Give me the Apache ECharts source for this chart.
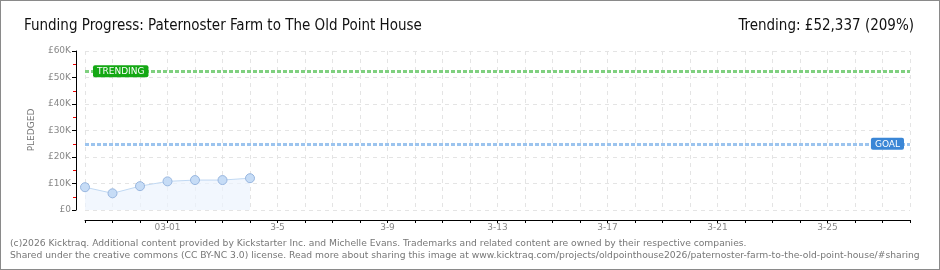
<!DOCTYPE html>
<html><head><meta charset="utf-8">
<script src="https://cdn.jsdelivr.net/npm/echarts@6/dist/echarts.min.js"></script>
<style>
html,body{margin:0;padding:0;background:#fff;}
#wrap{position:relative;width:938px;height:268px;border:1px solid #8a8a8a;}
#c{position:absolute;left:-1px;top:-1px;width:940px;height:270px;}
</style></head>
<body><div id="wrap"><div id="c"></div></div>
<script>
const categories = ['2-26','2-27','2-28','3-1','3-2','3-3','3-4','3-5','3-6','3-7','3-8','3-9','3-10','3-11','3-12','3-13','3-14','3-15','3-16','3-17','3-18','3-19','3-20','3-21','3-22','3-23','3-24','3-25','3-26','3-27','3-28'];
const xTickLabels = {'3-1':'03-01','3-5':'3-5','3-9':'3-9','3-13':'3-13','3-17':'3-17','3-21':'3-21','3-25':'3-25'};
const pledged = [8600, 6300, 9000, 10800, 11300, 11300, 12000];
const yTickLabels = ['£0','£10K','£20K','£30K','£40K','£50K','£60K'];
const goal = 25000;
const trending = 52337;

const chart = echarts.init(document.getElementById('c'));
const font = 'DejaVu Sans';
const titleFont = 'Liberation Sans Narrow, DejaVu Sans Condensed';
chart.setOption({
  animation:false,
  backgroundColor:'transparent',
  grid:{left:85,right:30,top:51,bottom:60},
  title:[
    {text:'Funding Progress: Paternoster Farm to The Old Point House',left:19,top:14,
     textStyle:{fontFamily:titleFont,fontWeight:'normal',fontSize:15,color:'#111'}},
    {text:'Trending: £52,337 (209%)',right:21,top:14,
     textStyle:{fontFamily:titleFont,fontWeight:'normal',fontSize:15,color:'#111'}}
  ],
  graphic:[
    {type:'text',left:10,top:239,style:{text:'(c)2026 Kicktraq. Additional content provided by Kickstarter Inc. and Michelle Evans. Trademarks and related content are owned by their respective companies.',font:'9.2px '+font,fill:'#777'}},
    {type:'text',left:10,top:251,style:{text:'Shared under the creative commons (CC BY-NC 3.0) license. Read more about sharing this image at www.kicktraq.com/projects/oldpointhouse2026/paternoster-farm-to-the-old-point-house/#sharing',font:'9.2px '+font,fill:'#777'}},
    {type:'text',x:32,y:130,rotation:Math.PI/2,style:{text:'PLEDGED',font:'9px '+font,fill:'#777',align:'center',verticalAlign:'middle'}}
  ],
  xAxis:{type:'category',data:categories,boundaryGap:false,offset:10,
    axisLine:{onZero:false,lineStyle:{color:'#000',width:1}},
    axisTick:{show:true,length:3,interval:0,lineStyle:{color:'#000'}},
    axisLabel:{interval:(i,v)=>xTickLabels[v]!==undefined,formatter:v=>xTickLabels[v]||'',color:'#888',fontSize:9,fontFamily:font,margin:3},
    splitLine:{show:true,interval:0,lineStyle:{color:'#e4e4e4',type:[4,4]}}
  },
  yAxis:{type:'value',min:0,max:60000,interval:10000,offset:9,
    axisLine:{show:true,onZero:false,lineStyle:{color:'#000'}},
    axisTick:{show:true,length:4,lineStyle:{color:'#000'}},
    minorTick:{show:true,splitNumber:2,length:3,lineStyle:{color:'#e00'}},
    axisLabel:{formatter:v=>yTickLabels[Math.round(v/10000)],color:'#888',fontSize:9,fontFamily:font,margin:5},
    splitLine:{show:true,lineStyle:{color:'#e4e4e4',type:[4,4]}}
  },
  series:[{
    type:'line',data:pledged,symbol:'circle',symbolSize:9,
    lineStyle:{color:'#c0d8f2',width:1},
    itemStyle:{color:'#c6dcf6',borderColor:'#98b6df',borderWidth:1},
    areaStyle:{color:'#edf4fd'},
    markLine:{symbol:'none',silent:true,
      data:[
        {yAxis:trending,lineStyle:{color:'#7fd07f',type:[4,2],width:3},
         label:{show:true,formatter:'TRENDING',position:'insideStartTop',distance:[8,-6],backgroundColor:'#14a814',color:'#fff',fontSize:9,fontFamily:font,padding:[2,4,1,4],borderRadius:2}},
        {yAxis:goal,lineStyle:{color:'#9cc4ee',type:[4,2],width:3},
         label:{show:true,formatter:'GOAL',position:'insideEndTop',distance:[6,-6],backgroundColor:'#3a86d6',color:'#fff',fontSize:9,fontFamily:font,padding:[2,4,1,4],borderRadius:2}}
      ]}
  }]
});
</script></body></html>
